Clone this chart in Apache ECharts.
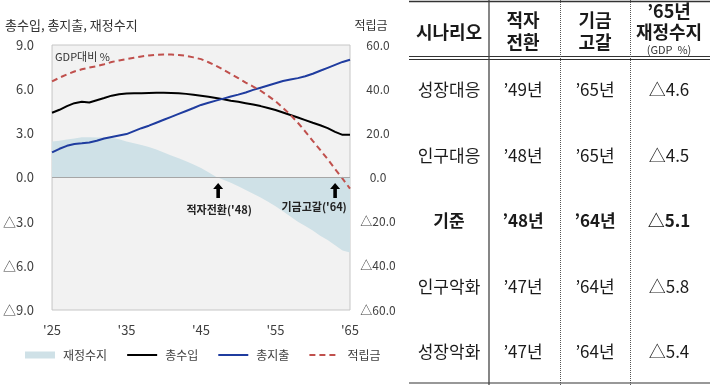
<!DOCTYPE html>
<html>
<head>
<meta charset="utf-8">
<script src="https://cdn.jsdelivr.net/npm/echarts@6/dist/echarts.min.js"></script>
<style>
html,body{margin:0;padding:0;background:#fff;}
#c{width:710px;height:385px;}
</style>
</head>
<body>
<div id="c"></div>
<script>
// ---- data ----
const years = [];
for (let y = 2025; y <= 2065; y++) years.push(y);

const balance = [2.45,2.5,2.58,2.65,2.73,2.73,2.72,2.71,2.7,2.6,2.45,2.32,2.2,2.08,1.9,1.7,1.5,1.3,1.1,0.88,0.65,0.35,0.05,-0.15,-0.35,-0.6,-0.85,-1.1,-1.35,-1.65,-1.95,-2.3,-2.65,-3.0,-3.3,-3.6,-3.95,-4.25,-4.6,-4.95,-5.1];
const revenue = [4.4,4.6,4.85,5.05,5.15,5.1,5.25,5.4,5.56,5.65,5.7,5.72,5.73,5.74,5.75,5.75,5.74,5.72,5.68,5.62,5.55,5.48,5.4,5.32,5.22,5.14,5.05,4.96,4.85,4.72,4.58,4.42,4.25,4.08,3.9,3.72,3.55,3.35,3.1,2.9,2.9];
const spending = [1.7,1.95,2.15,2.27,2.32,2.38,2.5,2.65,2.75,2.85,2.95,3.15,3.35,3.52,3.72,3.92,4.12,4.32,4.52,4.72,4.93,5.08,5.22,5.36,5.5,5.63,5.77,5.95,6.1,6.25,6.4,6.55,6.65,6.75,6.88,7.05,7.25,7.45,7.65,7.85,8.0];
const fund = [43.5,45.2,46.7,48,49,49.8,50.4,51.3,52.3,53,53.6,54.2,54.8,55.3,55.6,55.7,55.7,55.5,55.1,54.4,53.6,52.2,50.6,48.8,46.9,45,43,41.2,39.3,37,34.5,31.5,28.4,24.8,20.8,16.6,12.5,8.3,3.8,-0.5,-5];

const seriesNames = ['재정수지','총수입','총지출','적립금'];
const annotations = [
  {year: 2047.3, text: "적자전환('48)"},
  {year: 2063.0, text: "기금고갈('64)"}
];

// table data
const tableHeader = [['시나리오'], ['적자','전환'], ['기금','고갈'], ["’65년",'재정수지','(GDP  %)']];
const scenarios = ['성장대응','인구대응','기준','인구악화','성장악화'];
const deficitYear = ["’49년","’48년","’48년","’47년","’47년"];
const depletionYear = ["’65년","’65년","’64년","’64년","’64년"];
const balance65 = ['△4.6','△4.5','△5.1','△5.8','△5.4'];
const boldRow = 2;

// ---- helpers ----
const pair = arr => arr.map((v, i) => [years[i], v]);
const fmt = v => (v < 0 ? '△' + (-v).toFixed(1) : v.toFixed(1));
const FONT = '"Noto Sans CJK KR", "Noto Sans", sans-serif';
const arrowPath = 'path://M5,0 L10,6 L6.8,6 L6.8,15 L3.2,15 L3.2,6 L0,6 Z';

// ---- table graphics ----
const tbl = [];
const colX = [449, 523, 595, 669];
const lineColor = '#333';
tbl.push({type:'line', shape:{x1:409,y1:1.5,x2:710,y2:1.5}, style:{stroke:lineColor,lineWidth:1.5}});
tbl.push({type:'line', shape:{x1:409,y1:56.5,x2:710,y2:56.5}, style:{stroke:lineColor,lineWidth:1}});
tbl.push({type:'line', shape:{x1:409,y1:59.5,x2:710,y2:59.5}, style:{stroke:lineColor,lineWidth:1}});
tbl.push({type:'line', shape:{x1:409,y1:383,x2:710,y2:383}, style:{stroke:lineColor,lineWidth:1.2}});
tbl.push({type:'line', shape:{x1:489,y1:0,x2:489,y2:385}, style:{stroke:'#444',lineWidth:1.3}});
[560, 630].forEach(x => tbl.push({type:'line', shape:{x1:x+0.5,y1:0,x2:x+0.5,y2:385}, style:{stroke:'#555',lineWidth:1,lineDash:[1,1]}}));

// header
const headerY = {1:[32], 2:[20,42], 3:[11,32,50]};
tableHeader.forEach((lines, c) => {
  const ys = headerY[lines.length];
  lines.forEach((t, k) => {
    const small = t.startsWith('(');
    tbl.push({type:'text', style:{text:t, x:colX[c], y:ys[k], align:'center', verticalAlign:'middle',
      font:(small ? 'normal 11px ' : 'bold 18px ') + FONT, fill: small ? '#333' : '#1a1a1a'}});
  });
});
// body
const rowY0 = 90, rowStep = 65.5;
scenarios.forEach((s, r) => {
  const cells = [s, deficitYear[r], depletionYear[r], balance65[r]];
  cells.forEach((t, c) => {
    tbl.push({type:'text', style:{text:t, x:colX[c], y:rowY0 + r*rowStep, align:'center', verticalAlign:'middle',
      font:(r === boldRow ? 'bold ' : 'normal ') + '17px ' + FONT, fill:'#1a1a1a'}});
  });
});

const chart = echarts.init(document.getElementById('c'));
chart.setOption({
  animation: false,
  backgroundColor: '#fff',
  textStyle: {fontFamily: FONT},
  grid: {left: 48, right: 360, top: 45, bottom: 75, show: true, backgroundColor: '#f2f2f2', borderColor: '#c6c6c6', borderWidth: 1},
  legend: {
    left: 20, top: 344, itemWidth: 30, itemHeight: 7, itemGap: 19,
    textStyle: {fontSize: 12, color: '#404040', fontFamily: FONT, padding: [0,0,0,3]},
    data: [
      {name: seriesNames[0], icon: 'rect'},
      {name: seriesNames[1], itemStyle: {opacity: 0}},
      {name: seriesNames[2], itemStyle: {opacity: 0}},
      {name: seriesNames[3], itemStyle: {opacity: 0}}
    ]
  },
  xAxis: {
    type: 'value', min: 2025, max: 2065, interval: 10,
    axisLine: {show: false}, axisTick: {show: false}, splitLine: {show: false},
    axisLabel: {margin: 14, fontSize: 13, color: '#404040', formatter: v => "'" + String(v).slice(2)}
  },
  yAxis: [
    {type: 'value', min: -9, max: 9, interval: 3, axisLine: {show: false}, axisTick: {show: false}, splitLine: {show: false},
     axisLabel: {margin: 18, fontSize: 13, color: '#404040', formatter: fmt}},
    {type: 'value', min: -60, max: 60, interval: 20, position: 'right', axisLine: {show: false}, axisTick: {show: false}, splitLine: {show: false},
     axisLabel: {margin: 28, align: 'center', fontSize: 12, color: '#404040', formatter: fmt}}
  ],
  series: [
    {name: seriesNames[0], type: 'line', data: pair(balance), showSymbol: false, symbol: 'none',
     lineStyle: {width: 0, color: '#cfe1e7'}, itemStyle: {color: '#cfe1e7'}, areaStyle: {color: '#cfe1e7', opacity: 1}, z: 1,
     markLine: {silent: true, symbol: 'none', label: {show: false}, lineStyle: {color: '#a6a6a6', width: 1, type: 'solid'}, data: [{yAxis: 0}]},
     markPoint: {
       silent: true,
       data: annotations.map((a, i) => ({
         coord: [a.year, 0], symbol: arrowPath, symbolSize: [10, 15], symbolOffset: [0, 13],
         itemStyle: {color: '#000'},
         label: {show: true, position: 'bottom', distance: i === 0 ? 6 : 3, offset: i === 0 ? [1, 0] : [-21, 0],
                 formatter: a.text, fontSize: 11, fontWeight: 'bold', color: '#222', fontFamily: FONT}
       }))
     }},
    {name: seriesNames[1], type: 'line', data: pair(revenue), showSymbol: false, symbol: 'none',
     lineStyle: {width: 2, color: '#000'}, itemStyle: {color: '#000'}, z: 3},
    {name: seriesNames[2], type: 'line', data: pair(spending), showSymbol: false, symbol: 'none',
     lineStyle: {width: 2, color: '#1f3c9f'}, itemStyle: {color: '#1f3c9f'}, z: 3},
    {name: seriesNames[3], type: 'line', yAxisIndex: 1, data: pair(fund), showSymbol: false, symbol: 'none',
     lineStyle: {width: 2, color: '#c0504d', type: [6, 4]}, itemStyle: {color: '#c0504d'}, z: 4}
  ],
  graphic: [
    {type: 'text', style: {text: '총수입, 총지출, 재정수지', x: 5, y: 25, verticalAlign: 'middle', font: 'normal 13px ' + FONT, fill: '#333'}},
    {type: 'text', style: {text: '적립금', x: 371, y: 25, align: 'center', verticalAlign: 'middle', font: 'normal 12px ' + FONT, fill: '#333'}},
    {type: 'text', style: {text: 'GDP대비 %', x: 55, y: 57, verticalAlign: 'middle', font: 'normal 11px ' + FONT, fill: '#333'}}
  ].concat(tbl)
});
</script>
</body>
</html>
